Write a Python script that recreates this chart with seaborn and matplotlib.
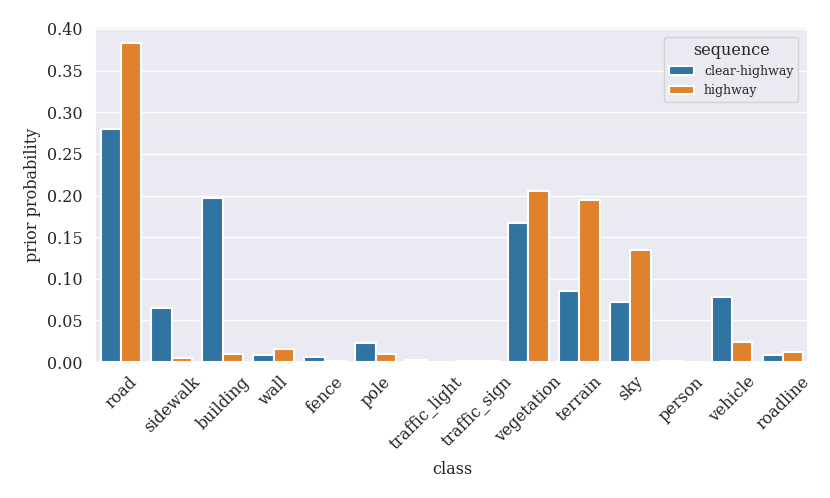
import matplotlib
matplotlib.use("Agg")
import matplotlib.pyplot as plt
import seaborn as sns
import pandas as pd

classes = ["road", "sidewalk", "building", "wall", "fence", "pole", "traffic_light",
           "traffic_sign", "vegetation", "terrain", "sky", "person", "vehicle", "roadline"]
clear_highway = [0.280, 0.065, 0.197, 0.009, 0.006, 0.023, 0.003, 0.001, 0.167, 0.085,
                 0.072, 0.001, 0.078, 0.008]
highway = [0.383, 0.005, 0.010, 0.016, 0.001, 0.010, 0.0005, 0.001, 0.206, 0.195,
           0.135, 0.0005, 0.024, 0.012]
sequences = ["clear-highway", "highway"]

df = pd.DataFrame({
    "class": classes * 2,
    "prior probability": clear_highway + highway,
    "sequence": [sequences[0]] * len(classes) + [sequences[1]] * len(classes),
})

sns.set_theme(style="darkgrid")
plt.rcParams["font.family"] = ["DejaVu Serif"]

fig, ax = plt.subplots(figsize=(8.3, 4.98), dpi=100)
sns.barplot(data=df, x="class", y="prior probability", hue="sequence", ax=ax,
            palette="tab10", edgecolor="white", linewidth=1.5, saturation=0.75)
ax.set_ylim(0, 0.4025)
ax.set_yticks([0, 0.05, 0.1, 0.15, 0.2, 0.25, 0.3, 0.35, 0.4])
ax.set_yticklabels([f"{v:.2f}" for v in ax.get_yticks()], fontsize=11.5)
plt.setp(ax.get_xticklabels(), rotation=45, fontsize=11.5)
ax.tick_params(axis="x", pad=2)
ax.set_xlabel("class", fontsize=11.5, labelpad=6)
ax.set_ylabel("prior probability", fontsize=11.5)
leg = ax.legend(title="sequence", loc="upper right", fontsize=9, title_fontsize=11.5,
                borderaxespad=0.8)
leg.get_frame().set_edgecolor("#cccccc")
fig.subplots_adjust(left=0.115, right=0.974, top=0.946, bottom=0.273)
fig.savefig("out.png", dpi=100)
